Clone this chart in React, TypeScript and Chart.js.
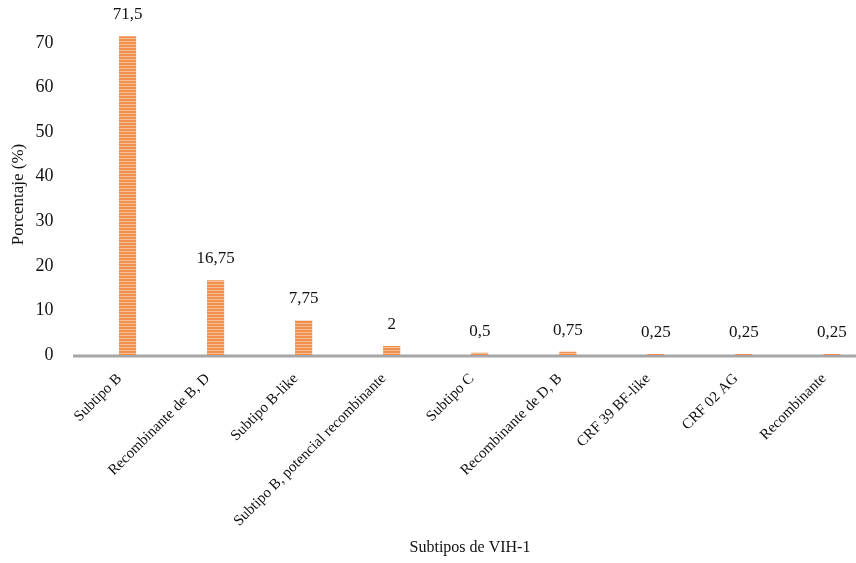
import React, { useEffect, useRef } from "react";
import { Chart, registerables } from "chart.js";

Chart.register(...registerables);

const categories = [
  "Subtipo B",
  "Recombinante de B, D",
  "Subtipo B-like",
  "Subtipo B, potencial recombinante",
  "Subtipo C",
  "Recombinante de D, B",
  "CRF 39 BF-like",
  "CRF 02 AG",
  "Recombinante",
];
const values = [71.5, 16.75, 7.75, 2, 0.5, 0.75, 0.25, 0.25, 0.25];
const valueLabels = ["71,5", "16,75", "7,75", "2", "0,5", "0,75", "0,25", "0,25", "0,25"];
const yTicks = [0, 10, 20, 30, 40, 50, 60, 70];
const xTitle = "Subtipos de VIH-1";
const yTitle = "Porcentaje (%)";

const FONT = "'Liberation Serif', 'Times New Roman', serif";

function makePattern(): CanvasPattern | string {
  const c = document.createElement("canvas");
  c.width = 4;
  c.height = 3;
  const g = c.getContext("2d");
  if (!g) return "#F0955A";
  g.fillStyle = "#EF8F50";
  g.fillRect(0, 0, 4, 2);
  g.fillStyle = "#F7BE90";
  g.fillRect(0, 2, 4, 1);
  return g.createPattern(c, "repeat") || "#F0955A";
}

const labelPlugin = {
  id: "valueLabels",
  afterDatasetsDraw(chart: any) {
    const { ctx } = chart;
    const meta = chart.getDatasetMeta(0);
    ctx.save();
    ctx.fillStyle = "#111";
    ctx.font = `17px ${FONT}`;
    ctx.textAlign = "center";
    ctx.textBaseline = "alphabetic";
    meta.data.forEach((bar: any, i: number) => {
      ctx.fillText(valueLabels[i], bar.x, bar.y - 17);
    });
    ctx.font = `16px ${FONT}`;
    ctx.textBaseline = "middle";
    ctx.fillText(xTitle, 470, 548);
    ctx.restore();
  },
};

const axisLinePlugin = {
  id: "axisLine",
  beforeDatasetsDraw(chart: any) {
    const { ctx } = chart;
    const y = chart.scales.y.getPixelForValue(0);
    ctx.save();
    ctx.strokeStyle = "#A6A6A6";
    ctx.lineWidth = 3;
    ctx.beginPath();
    ctx.moveTo(73, y + 1);
    ctx.lineTo(chart.width, y + 1);
    ctx.stroke();
    ctx.restore();
  },
};

export default function App() {
  const ref = useRef<HTMLCanvasElement>(null);
  useEffect(() => {
    document.body.style.margin = "0";
    document.body.style.overflow = "hidden";
    if (!ref.current) return;
    const chart = new Chart(ref.current, {
      type: "bar",
      data: {
        labels: categories,
        datasets: [
          {
            data: values,
            backgroundColor: makePattern() as any,
            borderWidth: 0,
            barPercentage: 0.195,
            categoryPercentage: 1,
          },
        ],
      },
      options: {
        animation: false,
        responsive: false,
        layout: { padding: { top: 34, left: 2, right: 4, bottom: 0 } },
        plugins: { legend: { display: false }, tooltip: { enabled: false } },
        scales: {
          x: {
            grid: { display: false },
            border: { display: false },
            afterFit(scale: any) {
              scale.height = 208;
            },
            ticks: {
              autoSkip: false,
              maxRotation: 45,
              minRotation: 45,
              color: "#111",
              font: { family: FONT, size: 15 },
              padding: 7,
              labelOffset: -8,
            },
          },
          y: {
            min: 0,
            max: 72,
            grid: { display: false },
            border: { display: false },
            afterBuildTicks(scale: any) {
              scale.ticks = yTicks.map((v) => ({ value: v }));
            },
            afterFit(scale: any) {
              scale.width = 81.5;
            },
            ticks: {
              color: "#111",
              font: { family: FONT, size: 18 },
              padding: 22,
            },
            title: {
              display: true,
              text: yTitle,
              color: "#111",
              font: { family: FONT, size: 17 },
              padding: { top: 6, bottom: 4 },
            },
          },
        },
      },
      plugins: [axisLinePlugin, labelPlugin],
    });
    return () => chart.destroy();
  }, []);
  return (
    <div style={{ position: "fixed", left: 0, top: 0, width: 856, height: 563, overflow: "hidden", background: "#fff" }}>
      <canvas ref={ref} width={880} height={563} style={{ display: "block" }} />
    </div>
  );
}
